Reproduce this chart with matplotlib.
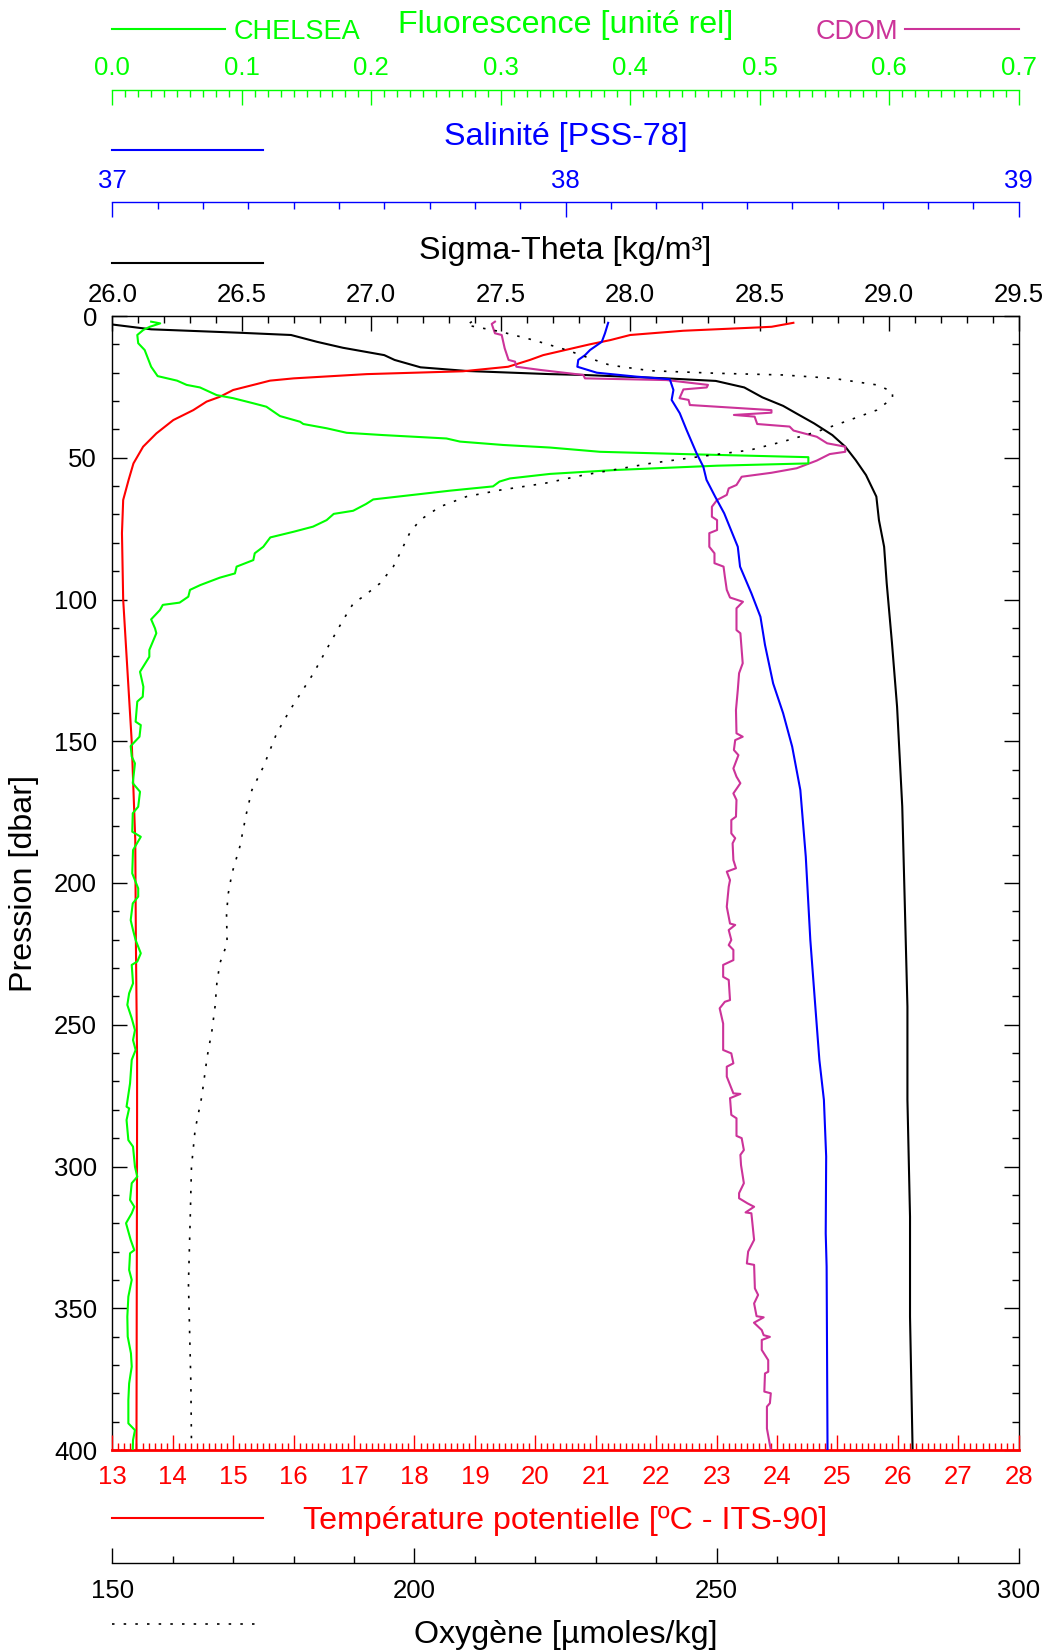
"""CTD profile chart: pressure vs sigma-theta, salinity, temperature, oxygen and fluorescence."""

import matplotlib

matplotlib.use("Agg")
import matplotlib.pyplot as plt
from matplotlib.lines import Line2D
from matplotlib.ticker import FormatStrFormatter, MultipleLocator

plt.rcParams["font.family"] = ["Liberation Sans", "DejaVu Sans"]

# ---------------------------------------------------------------- data
sigma_p = [3.0, 4.7, 5.9, 6.7, 9.1, 11.2, 13.8, 15.5, 18.1, 19.4, 20.5, 20.8, 22.0,
           22.9, 25.2, 28.7, 31.7, 34.3, 37.9, 42.0, 46.1, 50.8, 56.1, 63.7, 72.0,
           81.4, 94.3, 115.0, 137.8, 173.0, 208.0, 243.6, 276.5, 317.7, 353.0, 400.0]
sigma_v = [26.0, 26.15, 26.49, 26.69, 26.79, 26.89, 27.05, 27.09, 27.19, 27.37, 27.69,
           27.82, 28.14, 28.33, 28.44, 28.51, 28.59, 28.64, 28.71, 28.78, 28.83, 28.87,
           28.91, 28.95, 28.96, 28.98, 28.99, 29.01, 29.03, 29.05, 29.06, 29.07, 29.07,
           29.08, 29.08, 29.09]

sal_p = [2.4, 6.1, 9.1, 12.0, 13.8, 15.5, 17.9, 20.0, 21.4, 22.3, 26.1, 29.6, 34.3,
         40.2, 48.4, 53.2, 57.8, 63.7, 69.6, 81.4, 88.4, 97.8, 106.1, 116.0, 129.6,
         140.1, 151.9, 167.2, 190.7, 220.0, 241.3, 262.4, 276.5, 296.5, 323.6, 335.3,
         400.0]
sal_v = [38.094, 38.087, 38.08, 38.054, 38.043, 38.028, 38.026, 38.069, 38.157, 38.23,
         38.238, 38.234, 38.252, 38.267, 38.289, 38.304, 38.311, 38.33, 38.35, 38.38,
         38.385, 38.41, 38.43, 38.44, 38.458, 38.48, 38.50, 38.518, 38.53, 38.54, 38.55,
         38.56, 38.57, 38.575, 38.574, 38.576, 38.578]

temp_p = [2.4, 3.8, 4.0, 5.2, 6.7, 8.5, 10.0, 13.8, 15.5, 17.9, 19.5, 20.5, 22.0, 22.8,
          24.0, 26.1, 28.5, 30.2, 33.2, 36.7, 41.4, 46.1, 52.0, 57.8, 64.9, 76.6, 100.0,
          117.8, 149.6, 184.8, 220.0, 262.0, 282.0, 400.0]
temp_v = [24.27, 23.91, 23.72, 22.45, 21.57, 21.24, 20.9, 20.13, 19.91, 19.55, 18.8,
          17.21, 16.0, 15.61, 15.39, 15.0, 14.78, 14.56, 14.34, 14.01, 13.73, 13.51,
          13.35, 13.27, 13.18, 13.16, 13.18, 13.23, 13.32, 13.38, 13.39, 13.41, 13.41,
          13.40]

oxy_p = [2.0, 3.2, 5.5, 8.5, 12.0, 14.9, 17.3, 19.3, 20.2, 20.8, 22.0, 24.3, 26.7, 29.0,
         33.2, 36.7, 40.8, 44.3, 47.3, 49.6, 52.0, 56.1, 59.0, 61.4, 63.7, 67.3, 72.0,
         76.6, 83.7, 88.4, 94.3, 99.0, 101.3, 107.2, 115.5, 126.0, 139.0, 147.2, 159.0,
         167.2, 175.4, 187.2, 196.6, 203.6, 210.7, 221.3, 228.3, 235.4, 243.6, 251.9,
         261.3, 275.4, 287.1, 300.1, 317.7, 341.2, 376.5, 397.6]
oxy_v = [209.5, 208.6, 214.2, 219.7, 225.2, 229.0, 232.3, 239.0, 250.0, 261.0, 269.3,
         276.5, 279.1, 279.1, 276.5, 272.0, 266.6, 261.0, 255.5, 247.2, 239.0, 228.0,
         221.6, 214.2, 208.6, 204.2, 200.9, 199.2, 197.6, 196.5, 194.3, 191.5, 189.9,
         188.2, 186.0, 183.3, 179.4, 177.2, 175.0, 173.1, 172.2, 171.1, 169.8, 169.2,
         168.9, 169.0, 167.8, 167.3, 167.0, 166.5, 165.7, 164.8, 163.7, 163.1, 162.9,
         162.6, 163.0, 163.1]

chl_p = [2.0, 2.6, 3.8, 4.9, 6.7, 9.6, 12.0, 17.9, 21.2, 22.8, 24.3, 25.2, 27.9, 29.0,
         30.8, 32.0, 35.3, 37.3, 38.1, 39.6, 41.2, 42.0, 43.2, 44.3, 45.5, 46.4, 47.9,
         48.7, 49.8, 52.0, 52.8, 54.3, 55.7, 57.3, 58.4, 60.1, 61.6, 64.7, 66.3, 68.7,
         69.8, 72.0, 74.3, 76.1, 78.1, 81.4, 83.7, 86.1, 88.4, 90.8, 92.3, 94.9, 96.6,
         99.0, 101.1, 101.9, 103.7, 107.0, 110.2, 111.9, 117.8, 120.2, 125.5, 130.8,
         134.3, 136.0, 143.1, 144.3, 148.4, 151.7, 155.4, 157.8, 164.8, 167.8, 173.1,
         175.4, 181.9, 183.7, 188.4, 196.6, 201.9, 204.8, 207.2, 213.1, 216.6, 220.1,
         224.8, 227.7, 228.9, 235.4, 238.9, 243.0, 247.7, 251.9, 255.4, 258.9, 262.4,
         270.7, 278.9, 279.5, 283.6, 290.7, 293.0, 300.1, 303.6, 305.9, 311.8, 314.2,
         316.5, 320.0, 325.9, 329.5, 330.6, 336.5, 340.0, 345.9, 353.0, 360.0, 365.9,
         370.6, 376.5, 382.4, 390.6, 393.0, 396.5, 400.0]
chl_v = [0.030, 0.037, 0.029, 0.024, 0.0193, 0.020, 0.025, 0.030, 0.035, 0.050, 0.0574,
         0.0677, 0.0806, 0.0934, 0.109, 0.119, 0.1295, 0.145, 0.1475, 0.1655, 0.181,
         0.209, 0.258, 0.2685, 0.302, 0.338, 0.3766, 0.441, 0.5375, 0.5375, 0.467, 0.3895,
         0.338, 0.307, 0.299, 0.294, 0.261, 0.2015, 0.196, 0.186, 0.171, 0.1655, 0.155,
         0.140, 0.122, 0.1166, 0.110, 0.1089, 0.096, 0.0947, 0.083, 0.068, 0.060, 0.0587,
         0.052, 0.039, 0.0368, 0.030, 0.033, 0.034, 0.0286, 0.0286, 0.0214, 0.024, 0.0235,
         0.0193, 0.018, 0.022, 0.021, 0.0142, 0.015, 0.0175, 0.0158, 0.0214, 0.020,
         0.0158, 0.0154, 0.022, 0.016, 0.0154, 0.020, 0.020, 0.0158, 0.0142, 0.016, 0.018,
         0.022, 0.0193, 0.015, 0.016, 0.013, 0.0116, 0.015, 0.0175, 0.016, 0.018, 0.015,
         0.0137, 0.011, 0.013, 0.011, 0.0124, 0.016, 0.0175, 0.0193, 0.015, 0.0137, 0.017,
         0.015, 0.0106, 0.0142, 0.017, 0.0137, 0.013, 0.015, 0.0124, 0.0116, 0.0119,
         0.0144, 0.015, 0.013, 0.0124, 0.0124, 0.0175, 0.016, 0.0158]

cdom_p = [2.0, 2.8, 6.1, 6.7, 11.4, 15.5, 16.1, 17.9, 19.0, 20.8, 22.0, 22.6, 24.3, 25.2,
          25.9, 29.0, 29.6, 31.4, 33.2, 34.1, 34.9, 35.5, 38.1, 39.0, 40.4, 42.6, 44.9,
          46.1, 47.9, 48.7, 51.0, 53.7, 55.3, 56.7, 59.6, 60.8, 63.1, 64.9, 67.3, 70.8,
          72.0, 75.5, 76.6, 81.4, 83.7, 87.2, 88.4, 91.9, 96.6, 99.3, 100.8, 103.1, 110.8,
          111.9, 117.8, 122.5, 126.0, 131.9, 139.0, 147.2, 148.4, 149.6, 153.1, 154.9,
          159.6, 162.5, 164.8, 168.4, 170.7, 176.6, 177.8, 182.5, 184.2, 186.0, 191.9,
          194.8, 196.0, 199.0, 201.3, 208.4, 214.3, 214.8, 216.6, 220.1, 221.9, 223.6,
          227.2, 228.9, 233.1, 234.2, 241.3, 241.9, 244.2, 249.6, 258.9, 260.1, 263.6,
          264.8, 268.3, 274.2, 274.4, 275.9, 281.8, 283.0, 289.2, 290.0, 294.2, 295.9,
          299.5, 305.9, 309.4, 311.2, 313.0, 314.2, 316.2, 316.5, 325.9, 330.0, 334.2,
          334.7, 343.0, 345.3, 348.3, 352.8, 353.2, 355.1, 357.7, 359.5, 360.1, 361.2,
          364.7, 368.3, 372.4, 373.0, 379.4, 380.0, 383.5, 384.7, 392.4, 400.0]
cdom_v = [0.2955, 0.293, 0.2955, 0.3007, 0.303, 0.306, 0.311, 0.312, 0.330, 0.3637, 0.365,
          0.428, 0.460, 0.459, 0.441, 0.438, 0.445, 0.446, 0.509, 0.509, 0.480, 0.496,
          0.498, 0.523, 0.526, 0.544, 0.552, 0.566, 0.566, 0.554, 0.544, 0.5285, 0.509,
          0.486, 0.482, 0.476, 0.4745, 0.467, 0.463, 0.463, 0.467, 0.467, 0.461, 0.461,
          0.465, 0.465, 0.472, 0.473, 0.4745, 0.477, 0.487, 0.482, 0.482, 0.485, 0.486,
          0.4868, 0.484, 0.483, 0.4816, 0.482, 0.4868, 0.481, 0.480, 0.4835, 0.4796, 0.482,
          0.485, 0.4796, 0.482, 0.4816, 0.478, 0.478, 0.481, 0.479, 0.4796, 0.4816, 0.4745,
          0.477, 0.476, 0.4745, 0.477, 0.481, 0.476, 0.478, 0.476, 0.4796, 0.4796, 0.4717,
          0.4717, 0.476, 0.477, 0.473, 0.469, 0.4717, 0.4717, 0.478, 0.4796, 0.4745,
          0.4745, 0.4796, 0.485, 0.477, 0.478, 0.482, 0.482, 0.486, 0.4877, 0.485, 0.4855,
          0.4877, 0.484, 0.484, 0.4905, 0.4956, 0.489, 0.4935, 0.4956, 0.491, 0.490,
          0.4956, 0.4962, 0.4987, 0.4956, 0.4975, 0.503, 0.4955, 0.5015, 0.503, 0.5078,
          0.5015, 0.5015, 0.5065, 0.5065, 0.504, 0.5035, 0.5085, 0.5078, 0.5055, 0.5055,
          0.5085]

# ---------------------------------------------------------------- style
colors = {
    "fluo": "#00FF00",
    "cdom": "#CC3399",
    "sal": "#0000FF",
    "sigma": "#000000",
    "temp": "#FF0000",
    "oxy": "#000000",
}

W_PX, H_PX = 1050, 1652
X0, X1 = 112.3, 1018.8  # plot frame left / right (px)
Y0, Y1 = 316.0, 1450.0  # plot frame top / bottom (px)

TICK_FS = 18.5
TITLE_FS = 23.2
LEG_FS = 19.5
MAJ_LEN, MIN_LEN = 10.8, 5.0
LW = 1.5


def fx(px):
    return px / W_PX


def fy(py):
    return 1 - py / H_PX


fig = plt.figure(figsize=(W_PX / 100, H_PX / 100), dpi=100)

# main axes: sigma-theta on top, pressure on the left
ax = fig.add_axes([fx(X0), fy(Y1), (X1 - X0) / W_PX, (Y1 - Y0) / H_PX])
ax.set_xlim(26.0, 29.5)
ax.set_ylim(400, 0)

# temperature scale on the bottom frame
ax_t = ax.twiny()
ax_t.set_xlim(13, 28)

# hidden scales for the other variables
ax_f = ax.twiny()
ax_f.set_xlim(0, 0.7)
ax_s = ax.twiny()
ax_s.set_xlim(37, 39)
ax_o = ax.twiny()
ax_o.set_xlim(150, 300)
for a in (ax_f, ax_s, ax_o):
    a.axis("off")

# tick setup for the main axes (after twiny, which moves ticks to the bottom)
ax.xaxis.set_ticks_position("top")
ax.xaxis.set_label_position("top")
ax.xaxis.set_major_locator(MultipleLocator(0.5))
ax.xaxis.set_minor_locator(MultipleLocator(0.1))
ax.xaxis.set_major_formatter(FormatStrFormatter("%.1f"))
ax.yaxis.set_major_locator(MultipleLocator(50))
ax.yaxis.set_minor_locator(MultipleLocator(10))
ax.tick_params(axis="x", which="both", direction="in", top=True, bottom=False,
               labeltop=True, labelbottom=False, labelsize=TICK_FS, pad=6.5)
ax.tick_params(axis="y", which="both", direction="in", left=True, right=True,
               labelsize=TICK_FS, pad=11)
ax.tick_params(which="major", length=MAJ_LEN, width=1)
ax.tick_params(which="minor", length=MIN_LEN, width=1)
ax.spines["bottom"].set_visible(False)
for s in ("top", "left", "right"):
    ax.spines[s].set_linewidth(1.0)

ax_t.xaxis.set_ticks_position("bottom")
ax_t.xaxis.set_label_position("bottom")
ax_t.xaxis.set_major_locator(MultipleLocator(1))
ax_t.xaxis.set_minor_locator(MultipleLocator(0.1))
ax_t.tick_params(axis="x", which="both", direction="in", bottom=True, top=False,
                 labelbottom=True, labeltop=False, colors=colors["temp"],
                 labelsize=TICK_FS, pad=10.5)
ax_t.tick_params(which="major", length=MAJ_LEN, width=1)
ax_t.tick_params(which="minor", length=MIN_LEN, width=1)
for s in ("top", "left", "right"):
    ax_t.spines[s].set_visible(False)
ax_t.spines["bottom"].set_color(colors["temp"])
ax_t.spines["bottom"].set_linewidth(2.0)

# profiles
ax_o.plot(oxy_v, oxy_p, color=colors["oxy"], lw=1.2, linestyle=(0, (1.5, 5.5)))
ax.plot(sigma_v, sigma_p, color=colors["sigma"], lw=LW)
ax_s.plot(sal_v, sal_p, color=colors["sal"], lw=LW)
ax_f.plot(cdom_v, cdom_p, color=colors["cdom"], lw=LW)
ax_f.plot(chl_v, chl_p, color=colors["fluo"], lw=LW)
ax_t.plot(temp_v, temp_p, color=colors["temp"], lw=LW)


def floating_axis(ypx, lims, major, minor, fmt, color, top=True):
    """Detached scale drawn as a single spine above or below the frame."""
    if top:
        rect = [fx(X0), fy(ypx + 1), (X1 - X0) / W_PX, 1 / H_PX]
    else:
        rect = [fx(X0), fy(ypx), (X1 - X0) / W_PX, 1 / H_PX]
    a = fig.add_axes(rect)
    a.patch.set_visible(False)
    a.set_xlim(*lims)
    a.set_yticks([])
    for s in ("top", "bottom", "left", "right"):
        a.spines[s].set_visible(False)
    side = "top" if top else "bottom"
    a.spines[side].set_visible(True)
    a.spines[side].set_color(color)
    a.spines[side].set_linewidth(1.0)
    a.xaxis.set_ticks_position(side)
    a.xaxis.set_major_locator(MultipleLocator(major))
    a.xaxis.set_minor_locator(MultipleLocator(minor))
    a.xaxis.set_major_formatter(FormatStrFormatter(fmt))
    a.tick_params(axis="x", which="both", direction="in", colors=color,
                  labelsize=TICK_FS, top=top, bottom=not top,
                  labeltop=top, labelbottom=not top, pad=6.5 if top else 11.5)
    a.tick_params(which="major", length=MAJ_LEN, width=1)
    a.tick_params(which="minor", length=MIN_LEN, width=1)
    return a


floating_axis(89.5, (0, 0.7), 0.1, 0.01, "%.1f", colors["fluo"], top=True)
floating_axis(202.0, (37, 39), 1, 0.1, "%d", colors["sal"], top=True)
floating_axis(1563.0, (150, 300), 50, 10, "%d", colors["oxy"], top=False)

# titles and legend keys
xc = (X0 + X1) / 2
fig.text(fx(xc), fy(33.5), "Fluorescence [unité rel]", color=colors["fluo"],
         fontsize=TITLE_FS, ha="center", va="baseline")
fig.text(fx(234), fy(39), "CHELSEA", color=colors["fluo"], fontsize=LEG_FS,
         ha="left", va="baseline")
fig.text(fx(816), fy(39), "CDOM", color=colors["cdom"], fontsize=LEG_FS,
         ha="left", va="baseline")
fig.text(fx(xc), fy(145), "Salinité [PSS-78]", color=colors["sal"],
         fontsize=TITLE_FS, ha="center", va="baseline")
fig.text(fx(xc), fy(259.5), "Sigma-Theta [kg/m³]", color=colors["sigma"],
         fontsize=TITLE_FS, ha="center", va="baseline")
fig.text(fx(xc), fy(1528.5), "Température potentielle [ºC - ITS-90]",
         color=colors["temp"], fontsize=TITLE_FS, ha="center", va="baseline")
fig.text(fx(xc), fy(1643), "Oxygène [µmoles/kg]", color=colors["oxy"],
         fontsize=TITLE_FS, ha="center", va="baseline")
fig.text(fx(24.5), fy((Y0 + Y1) / 2), "Pression [dbar]", fontsize=TITLE_FS,
         rotation=90, ha="center", va="center")

legend_keys = [
    (112, 225, 29, colors["fluo"], "-"),
    (905, 1019, 29, colors["cdom"], "-"),
    (112, 263, 150, colors["sal"], "-"),
    (112, 263, 263, colors["sigma"], "-"),
    (112, 263, 1517.7, colors["temp"], "-"),
    (112, 263, 1624, colors["oxy"], (0, (1.5, 5.5))),
]
for xa, xb, yy, c, ls in legend_keys:
    lw = 1.2 if ls != "-" else LW
    fig.add_artist(Line2D([fx(xa), fx(xb)], [fy(yy), fy(yy)], color=c, lw=lw,
                          linestyle=ls, transform=fig.transFigure))

fig.savefig("out.png", dpi=100, facecolor="white")
